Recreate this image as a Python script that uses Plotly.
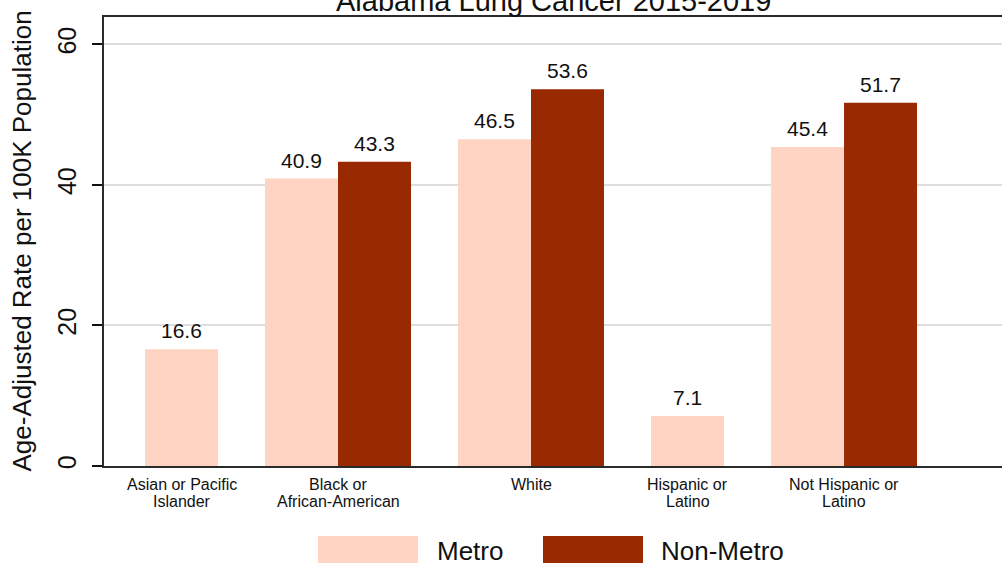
import plotly.graph_objects as go

# Lung cancer incidence, Alabama 2015-2019 (age-adjusted, per 100K)
categories = [
    "Asian or Pacific<br>Islander",
    "Black or<br>African-American",
    "White",
    "Hispanic or<br>Latino",
    "Not Hispanic or<br>Latino",
]
metro = [16.6, 40.9, 46.5, 7.1, 45.4]
non_metro = [None, 43.3, 53.6, None, 51.7]
y_ticks = [0, 20, 40, 60]

series_names = ["Metro", "Non-Metro"]
series_colors = ["#ffd4c3", "#992900"]

FONT = "Liberation Sans, Arial, Helvetica, sans-serif"
W, H = 1002, 563
M_L, M_R, M_T, M_B = 104, 0, 17, 97
PW, PH = W - M_L - M_R, H - M_T - M_B

# Bars sit side by side inside each group; missing values take no slot.
BAR_W = 1.0
GROUP_GAP = 0.644
cursor = 0.0
bar_x = [[], []]
bar_y = [[], []]
group_centers = []
for vals in zip(metro, non_metro):
    xs = []
    for s, v in enumerate(vals):
        if v is None:
            continue
        xc = cursor + BAR_W / 2
        bar_x[s].append(xc)
        bar_y[s].append(v)
        xs.append(xc)
        cursor += BAR_W
    group_centers.append(sum(xs) / len(xs))
    cursor += GROUP_GAP

x_left = -0.5616
x_right = 11.74
y_top = 63.9


def px_x(p):
    return (p - M_L) / PW


def px_y(p):
    return (H - M_B - p) / PH


fig = go.Figure()
for s in range(2):
    fig.add_trace(go.Bar(
        x=bar_x[s], y=bar_y[s], width=BAR_W,
        name=series_names[s],
        marker=dict(color=series_colors[s], line=dict(width=0)),
        showlegend=False,
    ))

annotations = []
# value labels above each bar
for s in range(2):
    for xv, yv in zip(bar_x[s], bar_y[s]):
        annotations.append(dict(
            x=xv, y=yv, xref="x", yref="y", text=f"{yv:.1f}",
            showarrow=False, yanchor="bottom", yshift=5,
            font=dict(family=FONT, size=21, color="#111"),
        ))

# category labels under the axis, one annotation per line
for xc, name in zip(group_centers, categories):
    for i, line in enumerate(name.split("<br>")):
        annotations.append(dict(
            x=xc, y=px_y(485 + 16 * i), xref="x", yref="paper", text=line,
            showarrow=False, yanchor="middle",
            font=dict(family=FONT, size=16, color="#111"),
        ))

# title
annotations.append(dict(
    x=0.5, y=px_y(1), xref="paper", yref="paper",
    text="Alabama Lung Cancer 2015-2019", showarrow=False, yanchor="middle",
    font=dict(family=FONT, size=29, color="#111"),
))

# y-axis title
annotations.append(dict(
    x=px_x(21), y=0.5, xref="paper", yref="paper",
    text="Age-Adjusted Rate per 100K Population", showarrow=False,
    textangle=-90, xanchor="center", yanchor="middle",
    font=dict(family=FONT, size=26, color="#111"),
))

# legend: wide colour swatches followed by their names
shapes = []
legend_items = [(318, 418, 435), (543, 643, 659)]
for (sx0, sx1, tx), name, color in zip(legend_items, series_names, series_colors):
    shapes.append(dict(
        type="rect", xref="paper", yref="paper",
        x0=px_x(sx0), x1=px_x(sx1), y0=px_y(566), y1=px_y(536),
        fillcolor=color, line=dict(width=0),
    ))
    annotations.append(dict(
        x=px_x(tx), y=px_y(551), xref="paper", yref="paper", text=name,
        showarrow=False, xanchor="left", yanchor="middle",
        font=dict(family=FONT, size=26, color="#111"),
    ))

fig.update_layout(
    width=W, height=H,
    margin=dict(l=M_L, r=M_R, t=M_T, b=M_B, pad=0),
    paper_bgcolor="white", plot_bgcolor="white",
    barmode="overlay",
    font=dict(family=FONT, color="#111"),
    xaxis=dict(
        range=[x_left, x_right], showticklabels=False, ticks="",
        showgrid=False, zeroline=False,
        showline=True, linecolor="#2a2a2a", linewidth=2, mirror=True,
    ),
    yaxis=dict(
        range=[0, y_top], tickvals=y_ticks, tickangle=-90,
        ticks="outside", ticklen=10, tickwidth=1.5, tickcolor="#111",
        ticklabelstandoff=6,
        tickfont=dict(family=FONT, size=25, color="#111"),
        showgrid=True, gridcolor="#dedede", gridwidth=2,
        zeroline=False, showline=True, linecolor="#2a2a2a", linewidth=2,
    ),
    annotations=annotations,
    shapes=shapes,
)

fig.write_html("out.html")
